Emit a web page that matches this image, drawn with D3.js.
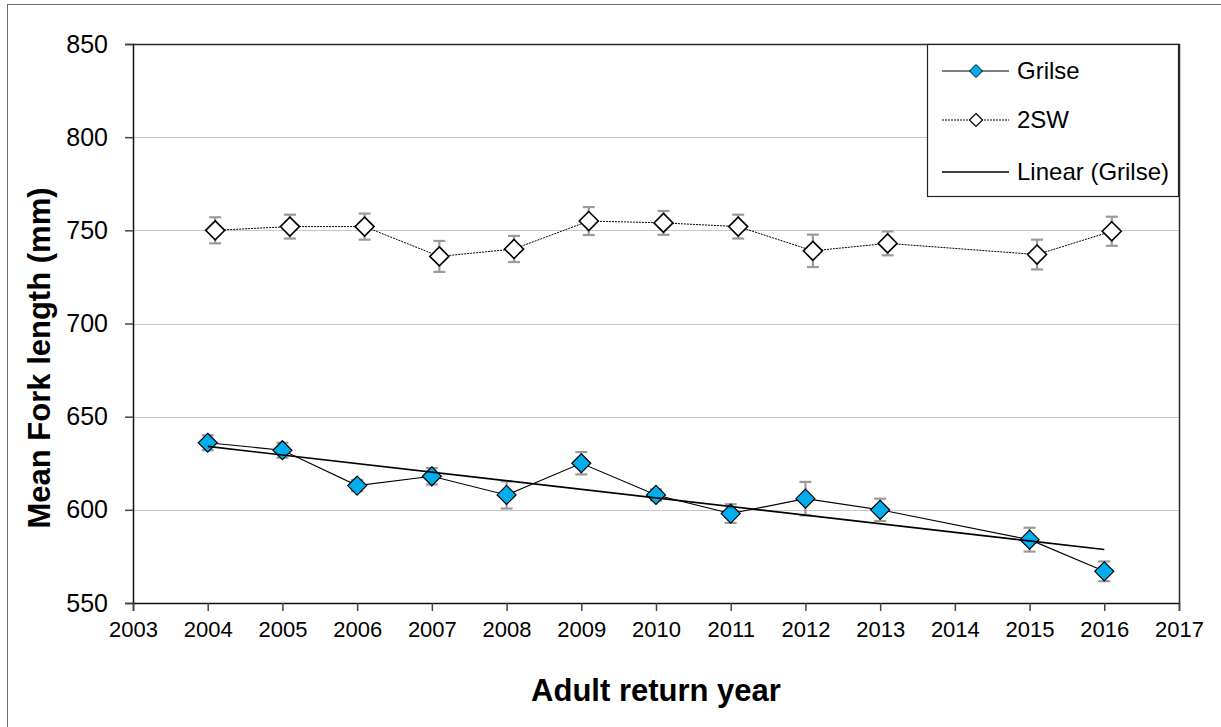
<!DOCTYPE html>
<html>
<head>
<meta charset="utf-8">
<script src="https://cdn.jsdelivr.net/npm/d3@7"></script>
<style>
  html, body { margin: 0; padding: 0; background: #fff; }
  svg { display: block; font-family: Arial, "Liberation Sans", sans-serif; }
</style>
</head>
<body>
<svg id="chart" width="1221" height="727"></svg>
<script>
// Mean fork length of returning adults by year
const grilseYears = [2004, 2005, 2006, 2007, 2008, 2009, 2010, 2011, 2012, 2013, 2015, 2016];
const grilseMean  = [636, 632, 613, 618, 608, 625, 608, 598, 606, 600, 584, 567];
const grilseErr   = [4, 4, 3, 4.4, 7.3, 6, 3, 5, 9, 6, 6.4, 5.3];

const sw2Years = [2004, 2005, 2006, 2007, 2008, 2009, 2010, 2011, 2012, 2013, 2015, 2016];
const sw2Mean  = [750, 752, 752, 736, 740, 755, 754, 752, 739, 743, 737, 749.5];
const sw2Err   = [7, 6.4, 7, 8.3, 7, 7.5, 6.4, 6.4, 8.7, 6.4, 8, 7.8];
const sw2Shift = 0.1; // 2SW points are plotted slightly right of the grilse points

const yTicks = [550, 600, 650, 700, 750, 800, 850];
const xTicks = d3.range(2003, 2018);

const legendLabels = ["Grilse", "2SW", "Linear (Grilse)"];

const svg = d3.select("#chart");
const M = { left: 133, top: 44, right: 1179, bottom: 603 };

const x = d3.scaleLinear().domain([2003, 2017]).range([M.left, M.right]);
const y = d3.scaleLinear().domain([550, 850]).range([M.bottom, M.top]);

// Outer chart frame
svg.append("rect")
  .attr("x", 7.5).attr("y", 4.5).attr("width", 1240).attr("height", 740)
  .attr("fill", "none").attr("stroke", "#6b6b6b").attr("stroke-width", 1);

// Horizontal gridlines
svg.append("g").selectAll("line")
  .data(yTicks.filter(v => v > 550 && v < 850))
  .join("line")
  .attr("x1", M.left).attr("x2", M.right)
  .attr("y1", d => Math.round(y(d)) + 0.5).attr("y2", d => Math.round(y(d)) + 0.5)
  .attr("stroke", "#c8c8c8").attr("stroke-width", 1.2);

// Plot area border (top and right)
svg.append("path")
  .attr("d", `M${M.left},${M.top + 0.5}H${M.right + 0.5}V${M.bottom}`)
  .attr("fill", "none").attr("stroke", "#2a2a2a").attr("stroke-width", 1.5);

// Axes
const yAxis = d3.axisLeft(y).tickValues(yTicks).tickSize(8).tickPadding(17).tickFormat(d3.format("d"));
const xAxis = d3.axisBottom(x).tickValues(xTicks).tickSize(8).tickPadding(10).tickFormat(d3.format("d"));

const gy = svg.append("g").attr("transform", `translate(${M.left},0)`).call(yAxis);
const gx = svg.append("g").attr("transform", `translate(0,${M.bottom})`).call(xAxis);
[gy, gx].forEach(g => {
  g.select(".domain").attr("stroke", "#111").attr("stroke-width", 1.5);
  g.selectAll(".tick line").attr("stroke", "#444").attr("stroke-width", 1.5);
  g.selectAll(".tick text").attr("fill", "#000")
    .attr("font-family", "Arial, 'Liberation Sans', sans-serif");
});
gy.selectAll(".tick text").attr("font-size", 25);
gx.selectAll(".tick text").attr("font-size", 22);

// Axis titles
svg.append("text")
  .attr("x", (M.left + M.right) / 2).attr("y", 701)
  .attr("text-anchor", "middle").attr("font-size", 31).attr("font-weight", "bold")
  .text("Adult return year");
svg.append("text")
  .attr("transform", "translate(50,358) rotate(-90)")
  .attr("text-anchor", "middle").attr("font-size", 31).attr("font-weight", "bold")
  .text("Mean Fork length (mm)");

// Series data
const grilse = grilseYears.map((yr, i) => ({ x: yr, v: grilseMean[i], e: grilseErr[i] }));
const sw2 = sw2Years.map((yr, i) => ({ x: yr + sw2Shift, v: sw2Mean[i], e: sw2Err[i] }));

// Linear trend of grilse (least squares)
const mx = d3.mean(grilse, d => d.x), my = d3.mean(grilse, d => d.v);
const slope = d3.sum(grilse, d => (d.x - mx) * (d.v - my)) / d3.sum(grilse, d => (d.x - mx) ** 2);
const trend = [grilseYears[0], grilseYears[grilseYears.length - 1]].map(t => ({ x: t, v: my + slope * (t - mx) }));

const line = d3.line().x(d => x(d.x)).y(d => y(d.v));

// Error bars
function errorBars(data) {
  const g = svg.append("g").attr("stroke", "#9a9a9a").attr("stroke-width", 2.2);
  data.forEach(d => {
    const cx = x(d.x), y0 = y(d.v - d.e), y1 = y(d.v + d.e);
    g.append("line").attr("x1", cx).attr("x2", cx).attr("y1", y0).attr("y2", y1);
    g.append("line").attr("x1", cx - 6).attr("x2", cx + 6).attr("y1", y0).attr("y2", y0);
    g.append("line").attr("x1", cx - 6).attr("x2", cx + 6).attr("y1", y1).attr("y2", y1);
  });
}
errorBars(sw2);
errorBars(grilse);

// 2SW series: dotted line, open diamonds
svg.append("path").datum(sw2).attr("d", line)
  .attr("fill", "none").attr("stroke", "#000").attr("stroke-width", 1).attr("stroke-dasharray", "2,1");

// Grilse series: solid line
svg.append("path").datum(grilse).attr("d", line)
  .attr("fill", "none").attr("stroke", "#000").attr("stroke-width", 1.1);

const diamond = r => `M0,${-r}L${r},0L0,${r}L${-r},0Z`;

svg.append("g").selectAll("path").data(sw2).join("path")
  .attr("transform", d => `translate(${x(d.x)},${y(d.v)})`)
  .attr("d", diamond(9.5)).attr("fill", "#fff").attr("stroke", "#000").attr("stroke-width", 1.6);

svg.append("g").selectAll("path").data(grilse).join("path")
  .attr("transform", d => `translate(${x(d.x)},${y(d.v)})`)
  .attr("d", diamond(9.5)).attr("fill", "#00AEEF").attr("stroke", "#000").attr("stroke-width", 1.2);

// Trend line on top
svg.append("path").datum(trend).attr("d", line)
  .attr("fill", "none").attr("stroke", "#000").attr("stroke-width", 1.6);

// Legend
const lg = svg.append("g");
lg.append("rect").attr("x", 927.5).attr("y", 44.5).attr("width", 251).attr("height", 152)
  .attr("fill", "#fff").attr("stroke", "#222").attr("stroke-width", 1.2);
const rowsY = [71, 120, 172];
const lx0 = 942, lx1 = 1009, lmx = 976;
// Grilse
lg.append("line").attr("x1", lx0).attr("x2", lx1).attr("y1", rowsY[0]).attr("y2", rowsY[0])
  .attr("stroke", "#000").attr("stroke-width", 1.1);
lg.append("path").attr("transform", `translate(${lmx},${rowsY[0]})`).attr("d", diamond(6.5))
  .attr("fill", "#00AEEF").attr("stroke", "#000").attr("stroke-width", 1);
// 2SW
lg.append("line").attr("x1", lx0).attr("x2", lx1).attr("y1", rowsY[1]).attr("y2", rowsY[1])
  .attr("stroke", "#000").attr("stroke-width", 1).attr("stroke-dasharray", "2,1");
lg.append("path").attr("transform", `translate(${lmx},${rowsY[1]})`).attr("d", diamond(6.5))
  .attr("fill", "#fff").attr("stroke", "#000").attr("stroke-width", 1.2);
// Linear trend
lg.append("line").attr("x1", lx0).attr("x2", lx1).attr("y1", rowsY[2]).attr("y2", rowsY[2])
  .attr("stroke", "#000").attr("stroke-width", 1.6);
lg.selectAll("text.lbl").data(legendLabels).join("text")
  .attr("class", "lbl").attr("x", 1017).attr("y", (d, i) => rowsY[i])
  .attr("dy", "0.35em").attr("font-size", 24).text(d => d);
</script>
</body>
</html>
